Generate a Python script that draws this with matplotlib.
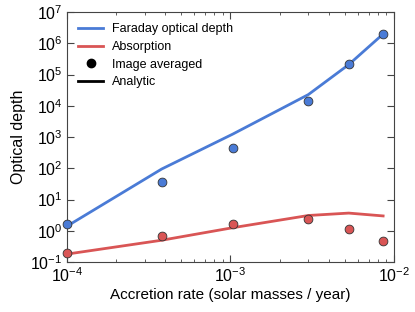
import matplotlib
matplotlib.use("Agg")
import matplotlib.pyplot as plt
from matplotlib.lines import Line2D

plt.rcParams["mathtext.fontset"] = "cm"
plt.rcParams["font.family"] = ["Liberation Sans", "DejaVu Sans"]

# accretion rate (solar masses / year)
mdot = [1.0e-4, 3.8e-4, 1.035e-3, 3.0e-3, 5.3e-3, 8.6e-3]

# analytic curves
faraday_line = [1.4, 95, 1250, 2.3e4, 2.1e5, 2.0e6]
absorb_line = [0.18, 0.50, 1.26, 3.1, 3.7, 3.0]

# image averaged values
faraday_pts = [1.64, 35.5, 455, 1.4e4, 2.2e5, 2.0e6]
absorb_pts = [0.20, 0.69, 1.64, 2.4, 1.16, 0.46]

blue = "#4a7bd6"
red = "#d95555"

fig = plt.figure(figsize=(4.15, 3.12), dpi=100)
ax = fig.add_axes([0.161, 0.16, 0.788, 0.801])

ax.plot(mdot, faraday_line, color=blue, lw=2)
ax.plot(mdot, absorb_line, color=red, lw=2)
ax.scatter(mdot, faraday_pts, s=40, color=blue, edgecolor="#333333", lw=0.6, zorder=3, clip_on=False)
ax.scatter(mdot, absorb_pts, s=40, color=red, edgecolor="#333333", lw=0.6, zorder=3, clip_on=False)

ax.set_xscale("log")
ax.set_yscale("log")
ax.set_xlim(1e-4, 1e-2)
ax.set_ylim(1e-1, 1e7)
ax.set_yticks([10.0 ** k for k in range(-1, 8)])

ax.tick_params(which="both", direction="in", top=True, right=True, color="#444444")
ax.tick_params(which="major", length=5, labelsize=11.5, pad=3)
ax.tick_params(which="minor", length=2.5)
for s in ax.spines.values():
    s.set_color("#444444")

ax.set_xlabel("Accretion rate (solar masses / year)", fontsize=11, labelpad=2)
ax.set_ylabel("Optical depth", fontsize=11.5, labelpad=3)

handles = [
    Line2D([], [], color=blue, lw=2),
    Line2D([], [], color=red, lw=2),
    Line2D([], [], color="black", marker="o", ls="none", ms=6),
    Line2D([], [], color="black", lw=2),
]
labels = ["Faraday optical depth", "Absorption", "Image averaged", "Analytic"]
ax.legend(handles, labels, loc="upper left", frameon=False, fontsize=9,
          handlelength=2.0, handletextpad=0.7, labelspacing=0.45, borderaxespad=0.5)

fig.savefig("out.png", dpi=100)
